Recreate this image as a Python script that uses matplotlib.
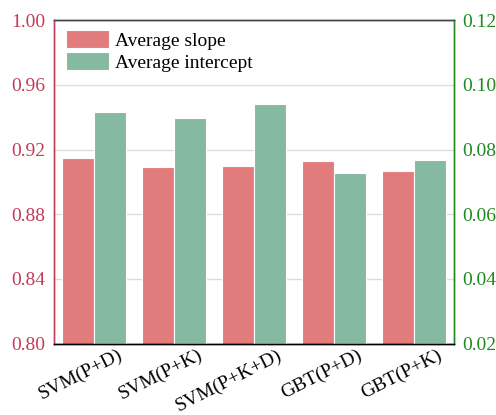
import matplotlib.pyplot as plt
import matplotlib.transforms as mtransforms
import numpy as np

plt.rcParams['font.family'] = ['Liberation Serif', 'DejaVu Serif']
plt.rcParams['font.size'] = 14

models = ['SVM(P+D)', 'SVM(P+K)', 'SVM(P+K+D)', 'GBT(P+D)', 'GBT(P+K)']
avg_slope = [0.915, 0.909, 0.910, 0.913, 0.907]
avg_intercept = [0.0915, 0.0897, 0.0941, 0.0728, 0.0767]

slope_color = '#E27B7C'
intercept_color = '#86B9A2'
left_color = '#C23B5A'
right_color = '#1F8A1F'

fig = plt.figure(figsize=(4.96, 4.15), dpi=100)
ax = fig.add_axes([0.109, 0.172, 0.806, 0.779])
ax2 = ax.twinx()

x = np.arange(len(models))
w = 0.4
b1 = ax.bar(x - w / 2, avg_slope, w, color=slope_color, edgecolor='white',
            linewidth=0.8, label='Average slope')
b2 = ax2.bar(x + w / 2, avg_intercept, w, color=intercept_color, edgecolor='white',
             linewidth=0.8, label='Average intercept')

ax.set_xlim(-0.5, len(models) - 0.5)
ax.set_ylim(0.80, 1.00)
ax.set_yticks(np.arange(0.80, 1.001, 0.04))
ax.set_yticklabels([f'{v:.2f}' for v in np.arange(0.80, 1.001, 0.04)])
ax2.set_ylim(0.02, 0.12)
ax2.set_yticks(np.arange(0.02, 0.1201, 0.02))
ax2.set_yticklabels([f'{v:.2f}' for v in np.arange(0.02, 0.1201, 0.02)])

ax.grid(axis='y', color='#DDDDDD', linewidth=1)
ax.set_axisbelow(True)

ax.tick_params(axis='y', length=0, pad=6, colors=left_color, labelsize=14)
ax2.tick_params(axis='y', length=0, pad=6, colors=right_color, labelsize=14)
ax.tick_params(axis='x', length=0, pad=2)

# rotated model names, right edge pushed a bit past each group centre
ax.set_xticks(x)
ax.set_xticklabels(models, rotation=27, ha='right', fontsize=14)
shift = mtransforms.ScaledTranslation(0.31, 0, fig.dpi_scale_trans)
for lbl in ax.get_xticklabels():
    lbl.set_transform(lbl.get_transform() + shift)

for a in (ax, ax2):
    a.spines['left'].set_color(left_color)
    a.spines['right'].set_color(right_color)
    a.spines['top'].set_color('#444444')
    a.spines['bottom'].set_color('black')
    for s in a.spines.values():
        s.set_linewidth(1.0)

ax2.legend([b1, b2], ['Average slope', 'Average intercept'], loc='upper left',
           bbox_to_anchor=(0.03, 0.971), frameon=False, borderpad=0,
           borderaxespad=0, handlelength=2.2, handleheight=1.1,
           handletextpad=0.3, labelspacing=0.1, fontsize=14)

fig.savefig('out.png', dpi=100)
